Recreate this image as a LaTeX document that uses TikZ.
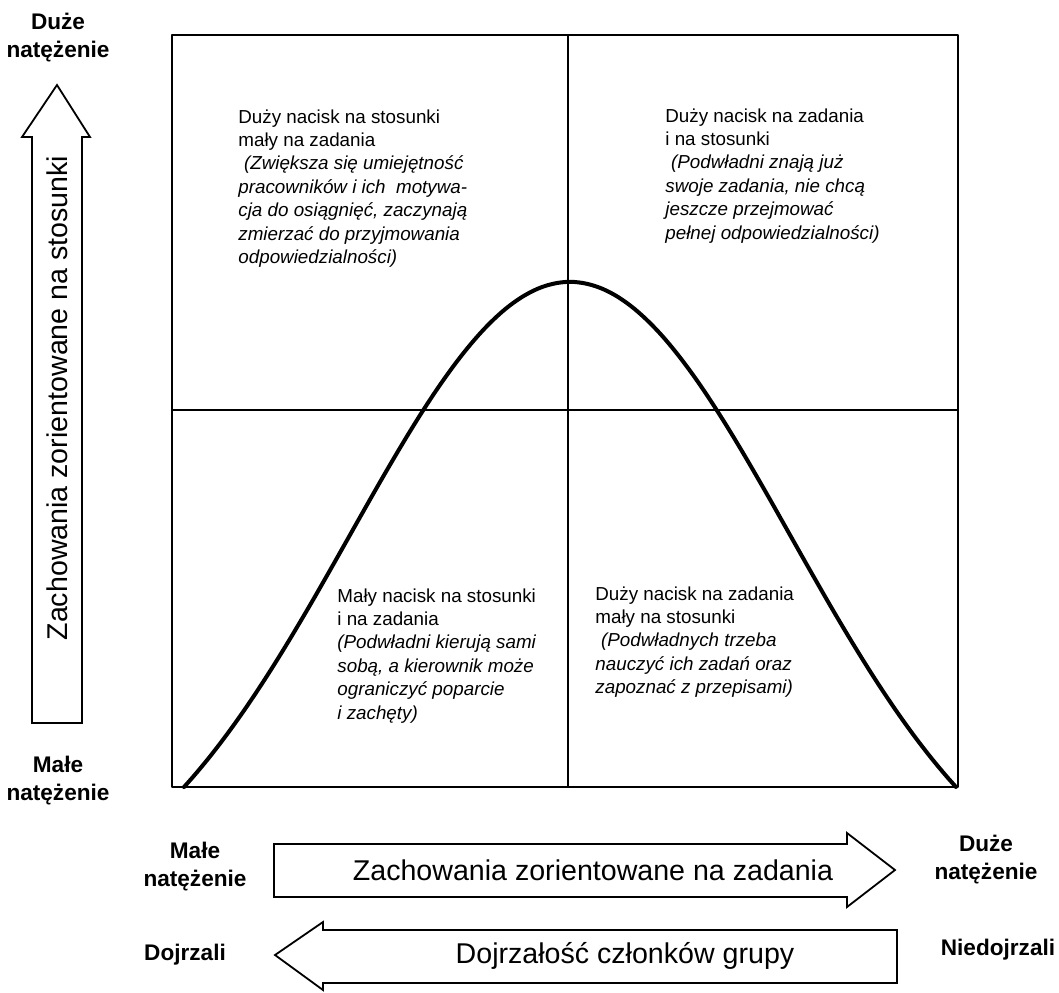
\documentclass[tikz,border=0pt]{standalone}
\usepackage{fontspec}
\setmainfont{Liberation Sans}
\usetikzlibrary{calc}

\tikzset{
  opis/.style={anchor=north west, inner sep=0pt, align=left, font=\fontsize{9.4}{11.7}\selectfont},
  skala/.style={inner sep=0pt, align=center, font=\fontsize{11.3}{14}\selectfont\bfseries},
  napis/.style={inner sep=0pt, font=\fontsize{14.3}{16}\selectfont},
  strzalka/.style={draw, line width=0.9pt, line join=miter},
}

\begin{document}
\begin{tikzpicture}[x=0.5pt, y=-0.5pt, line cap=round, line join=round]
  \useasboundingbox (0,0) rectangle (1059,992);
  \coordinate (A) at (172,35);
  \coordinate (B) at (958,35);
  \coordinate (C) at (958,787);
  \coordinate (D) at (172,787);
  \coordinate (M) at (568,410);
  \draw[line width=1pt] (A) rectangle (C);
  \draw[line width=0.8pt] (A |- M) -- (B |- M);
  \draw[line width=0.8pt] (M |- A) -- (M |- D);
  \draw[line width=2pt] plot[domain=-3.86:3.86, samples=90, smooth]
    ({570+100*\x}, {787-505*(exp(-\x*\x/9.68)-0.2146)/0.7854});
  \node[opis] (lg) at (238,109) {Duży nacisk na stosunki\\mały na zadania\\
    \itshape\hspace{0.3em}(Zwiększa się umiejętność\\\itshape pracowników i ich\ \ motywa-\\
    \itshape cja do osiągnięć, zaczynają\\\itshape zmierzać do przyjmowania\\
    \itshape odpowiedzialności)};
  \node[opis] (pg) at (665,108) {Duży nacisk na zadania\\i na stosunki\\
    \itshape\hspace{0.3em}(Podwładni znają już\\\itshape swoje zadania, nie chcą\\
    \itshape jeszcze przejmować\\\itshape pełnej odpowiedzialności)};
  \node[opis] (ld) at (337,588) {Mały nacisk na stosunki\\i na zadania\\
    \itshape (Podwładni kierują sami\\\itshape sobą, a kierownik może\\
    \itshape ograniczyć poparcie\\\itshape i zachęty)};
  \node[opis] (pd) at (595,586) {Duży nacisk na zadania\\mały na stosunki\\
    \itshape\hspace{0.3em}(Podwładnych trzeba\\\itshape nauczyć ich zadań oraz\\
    \itshape zapoznać z przepisami)};
  \draw[strzalka] (32,723) -- (32,137) -- (22,137) -- (57,85) -- (90,137) -- (82,137) -- (82,723) -- cycle;
  \draw[strzalka] (274,844) -- (847,844) -- (847,833) -- (895,870) -- (847,907) -- (847,897) -- (274,897) -- cycle;
  \draw[strzalka] (897,930) -- (323,930) -- (323,922) -- (275,955) -- (323,990) -- (323,983) -- (897,983) -- cycle;
  \node[napis, rotate=90] (stosunki) at (57,398) {Zachowania zorientowane na stosunki};
  \node[napis] (zadania) at (593,870) {Zachowania zorientowane na zadania};
  \node[napis] (dojrzalosc) at (625,956) {Dojrzałość członków grupy};
  \node[skala] (duzeGora) at (58,38) {Duże\\natężenie};
  \node[skala] (maleLewo) at (58,781) {Małe\\natężenie};
  \node[skala] (maleDol) at (195,867) {Małe\\natężenie};
  \node[skala] (duzeDol) at (986,860) {Duże\\natężenie};
  \node[skala] (dojrzali) at (185,955) {Dojrzali};
  \node[skala] (niedojrzali) at (998,950) {Niedojrzali};
\end{tikzpicture}
\end{document}
